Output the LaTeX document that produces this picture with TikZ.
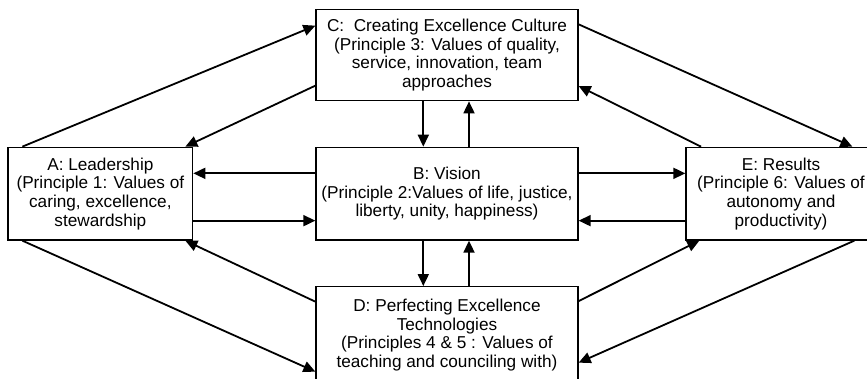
\documentclass[tikz,border=0pt]{standalone}
\usepackage{fontspec}
\setmainfont{Liberation Sans}
\usetikzlibrary{arrows.meta,calc}
\begin{document}
\begin{tikzpicture}[x=1pt,y=-1pt,
  box/.style={draw=black,line width=1.3pt,fill=white,inner sep=0pt,align=center,
    font=\fontsize{17.2}{18.7}\selectfont},
  arr/.style={line width=1.8pt,-{Triangle[length=12pt,width=11pt]}}]
\useasboundingbox (0,0) rectangle (867,378);
\clip (0,0) rectangle (867,378);
\node[box,minimum width=184.7pt,minimum height=92.7pt] (A) at (100.35,193.65)
  {A: Leadership\\(Principle 1: Values of\\caring, excellence,\\stewardship};
\node[box,minimum width=262pt,minimum height=92.7pt] (B) at (447,193.65)
  {B: Vision\\(Principle 2:Values of life, justice,\\liberty, unity, happiness)};
\node[box,minimum width=262pt,minimum height=91.4pt] (C) at (447,55)
  {C:\ \ Creating Excellence Culture\\(Principle 3: Values of quality,\\service, innovation, team\\approaches};
\node[box,minimum width=262pt,minimum height=96.6pt] (D) at (447,335)
  {D: Perfecting Excellence\\Technologies\\(Principles 4 \& 5 : Values of\\teaching and counciling with)};
\node[box,minimum width=190pt,minimum height=92.7pt] (E) at (781,193.65)
  {E: Results\\(Principle 6: Values of\\autonomy and\\productivity)};
% diagonal connectors, left side
\draw[arr] ($(A.north west)+(15,0)$) -- ($(C.north west)+(0,17)$);
\draw[arr] ($(C.north west)+(0,77)$) -- ($(A.north east)+(-8,0)$);
\draw[arr] ($(A.south west)+(15,0)$) -- ($(D.north west)+(0,85.6)$);
\draw[arr] ($(D.north west)+(0,15.6)$) -- ($(A.south east)+(-8,0)$);
% diagonal connectors, right side
\draw[arr] ($(C.north east)+(0,15.7)$) -- ($(E.north west)+(167,0)$);
\draw[arr] ($(E.north west)+(15.7,0)$) -- ($(C.north east)+(0,77.4)$);
\draw[arr] ($(D.north east)+(0,15)$) -- ($(E.south west)+(14,0)$);
\draw[arr] ($(E.south west)+(169,0)$) -- ($(D.north east)+(0,76.6)$);
% horizontal connectors
\draw[arr] ([yshift=20.3pt]B.west) -- ([yshift=20.3pt]A.east);
\draw[arr] ([yshift=-27pt]A.east) -- ([yshift=-27pt]B.west);
\draw[arr] ([yshift=20.3pt]B.east) -- ([yshift=20.3pt]E.west);
\draw[arr] ([yshift=-27pt]E.west) -- ([yshift=-27pt]B.east);
% vertical connectors
\draw[arr] ([xshift=-23.7pt]C.south) -- ([xshift=-23.7pt]B.north);
\draw[arr] ([xshift=22pt]B.north) -- ([xshift=22pt]C.south);
\draw[arr] ([xshift=-23.7pt]B.south) -- ([xshift=-23.7pt]D.north);
\draw[arr] ([xshift=22pt]D.north) -- ([xshift=22pt]B.south);
\end{tikzpicture}
\end{document}
